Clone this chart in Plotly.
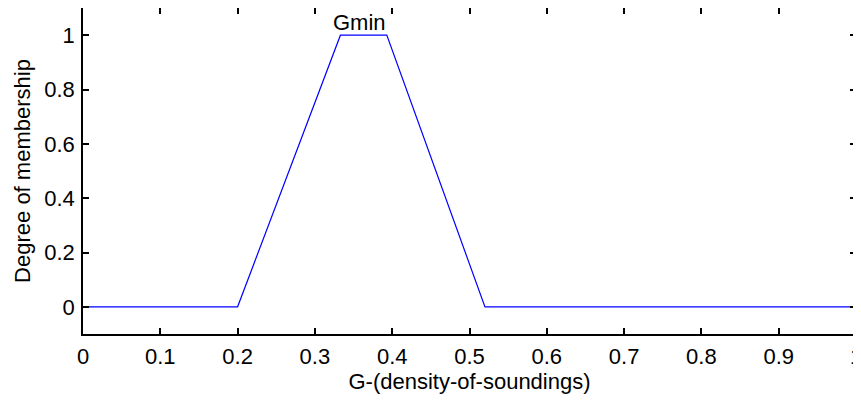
import plotly.graph_objects as go

# trapezoid membership function "Gmin" (breakpoints)
g_values = [0.0, 0.2, 0.333, 0.393, 0.52, 1.0]
membership = [0, 0, 1, 1, 0, 0]

x_ticks = [0, 0.1, 0.2, 0.3, 0.4, 0.5, 0.6, 0.7, 0.8, 0.9, 1]
x_tick_labels = ["0", "0.1", "0.2", "0.3", "0.4", "0.5", "0.6", "0.7", "0.8", "0.9", "1"]
y_ticks = [0, 0.2, 0.4, 0.6, 0.8, 1]
y_tick_labels = ["0", "0.2", "0.4", "0.6", "0.8", "1"]

FONT = "Liberation Sans, Arial, sans-serif"
FSIZE = 22

fig = go.Figure(go.Scatter(x=g_values, y=membership, mode="lines",
                           line=dict(color="#0000ff", width=1.2), showlegend=False))

fig.add_annotation(x=0.358, y=1.047, text="Gmin", showarrow=False,
                   font=dict(family=FONT, size=FSIZE, color="black"))

axis_style = dict(showline=True, linecolor="black", linewidth=1.5, mirror="allticks",
                  ticks="inside", ticklen=6, tickcolor="black", tickwidth=1.5,
                  showgrid=False, zeroline=False, automargin=False,
                  ticklabeloverflow="allow",
                  tickfont=dict(family=FONT, size=FSIZE, color="black"))

fig.update_xaxes(range=[0, 1], tickvals=x_ticks, ticktext=x_tick_labels,
                 title=dict(text="G-(density-of-soundings)", standoff=4,
                            font=dict(family=FONT, size=FSIZE, color="black")),
                 ticklabelstandoff=2, **axis_style)
fig.update_yaxes(range=[-0.1, 1.1], tickvals=y_ticks, ticktext=y_tick_labels,
                 title=dict(text="Degree of membership", standoff=8,
                            font=dict(family=FONT, size=FSIZE, color="black")),
                 ticklabelstandoff=2, **axis_style)

# the page adds an 8px body margin, so the figure is a bit smaller than the window
fig.update_layout(width=853, height=392, plot_bgcolor="white", paper_bgcolor="white",
                  margin=dict(l=75, r=5, t=0, b=66))

fig.write_html("out.html")
